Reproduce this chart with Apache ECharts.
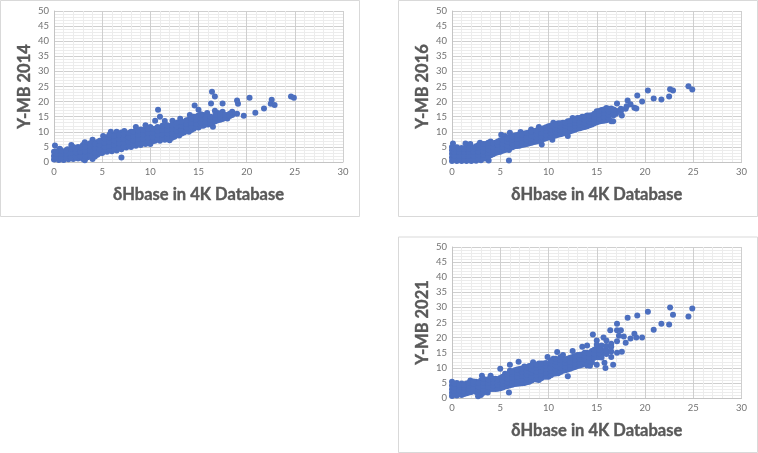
<!DOCTYPE html>
<html><head><meta charset="utf-8">
<script src="https://cdn.jsdelivr.net/npm/echarts@6/dist/echarts.min.js"></script>
<style>html,body{margin:0;padding:0;background:#fff}#c{width:758px;height:453px}</style>
</head><body><div id="c"></div>
<script>
const xTitle = 'δHbase in 4K Database';
const yTitles = ['Y-MB 2014', 'Y-MB 2016', 'Y-MB 2021'];
const ym2014 = [
[0,.8],[0,2],[0,3.4],[.1,5.5],[.5,.7],[.5,2],[.5,3.4],[.6,4.4],[1,.7],[1,2],[1,3.3],[1.5,.9],[1.5,2.1],[1.5,3.5],[1.4,4.2],
[2,1],[2,2.4],[2,3.8],[1.8,5.6],[2,5],[2.5,1.2],[2.5,2.6],[2.5,4],[2.5,5],[3,1],[3,2.8],[3,4.2],[3,5.6],[3.2,6.5],[3.2,.6],
[3.5,1.6],[3.5,3],[3.5,4.4],[3.5,5.8],[4,1],[4,2.6],[4,4],[4,5.4],[4,7.4],[4.5,2.4],[4.5,3.6],[4.5,5],[4.5,6.6],
[5,3],[5,4.4],[5,5.6],[5,7],[5.1,8.6],[5.5,3.4],[5.5,4.6],[5.5,6],[5.5,7.4],[5.5,8.2],[6,3.6],[6,5],[6,6.4],[6,7.8],[6,9.2],[5.9,10],
[6.5,3.8],[6.5,5.4],[6.5,6.8],[6.5,8.2],[6.5,10],[7,4.2],[7,5.6],[7,7],[7,8.4],[7,9.8],[7,1.5],[7.5,4.8],[7.5,6],[7.5,7.4],[7.5,8.8],[7.3,10.3],
[8,5],[8,6.4],[8,7.8],[8,9.2],[8,10],[8.5,5.4],[8.5,6.8],[8.5,8.2],[8.5,9.6],[8.5,11.6],[9,5.6],[9,7],[9,8.4],[9,9.8],[9,10.8],
[9.5,6],[9.5,7.4],[9.5,8.8],[9.5,10.2],[9.5,12.2],[10,6],[10,7.6],[10,9],[10,10.4],[10,11.6],[10.5,7],[10.5,8.2],[10.5,9.6],[10.5,11],[10.5,13.7],
[11,7],[11,8.6],[11,10],[11,11.2],[11,15],[10.8,17.3],[11.5,7.4],[11.5,8.8],[11.5,10.2],[11.5,11.4],[11.5,13.6],[12,7.2],[12,8.8],[12,10.2],[12,11.8],
[12.5,8.4],[12.5,9.8],[12.5,11],[12.5,12.4],[12.3,13.7],[13,8.8],[13,10.2],[13,11.6],[13,13],[13.1,14.3],[13.5,9.8],[13.5,10.8],[13.5,12],[13.5,13.2],
[14,10],[14,11.2],[14,12.6],[14,14],[14.1,15.6],[14.5,11],[14.5,12.2],[14.5,13.4],[14.5,15],[14.6,18.7],[15,11.4],[15,12.6],[15,13.8],[15,15.4],[15,17.3],
[15.5,12],[15.5,13],[15.5,14],[15.5,15.6],[16,12.4],[16,13.4],[16,14.4],[15.9,16.2],[16.5,11.7],[16.5,13.2],[16.5,14.4],[16.3,19.4],[16.4,23.3],[16.7,21.7],[16.7,17],
[17,13.8],[17,15],[17,16.2],[17.5,14.2],[17.5,15.2],[17.5,16.6],[17.5,19.4],[18,14.4],[18,15.6],[18.5,15.6],[18.5,16.6],[19,16],[19,20.4],[19.1,19.3],
[19.7,15.3],[20.3,21.3],[20.9,16.3],[21.8,17.7],[22.5,19.3],[22.6,20.6],[22.9,18.9],[24.6,21.7],[24.9,21.3],
[.25,1.4],[.25,2.7],[.25,3.6],[.75,1.3],[.75,2.7],[.75,3.8],[1.25,1.4],[1.25,2.8],[1.25,3.8],[1.75,1.6],[1.75,3],[1.75,4.3],[2.25,1.8],[2.25,3.2],[2.25,4.5],
[2.75,1.9],[2.75,3.4],[2.75,4.8],[3.25,2.1],[3.25,3.6],[3.25,5],[3.75,2.2],[3.75,3.8],[3.75,5.2],[3.75,6.2],[4.25,1.8],[4.25,3.2],[4.25,4.6],[4.25,6],
[4.75,3],[4.75,4.2],[4.75,5.6],[4.75,7],[5.25,3.6],[5.25,5],[5.25,6.4],[5.25,7.6],[5.75,4],[5.75,5.3],[5.75,6.7],[5.75,8.2],[5.75,9],[6.25,4.3],[6.25,5.8],[6.25,7.2],[6.25,8.6],
[6.75,4.6],[6.75,6.2],[6.75,7.6],[6.75,9],[7.25,5],[7.25,6.4],[7.25,7.8],[7.25,9.2],[7.75,5.4],[7.75,6.8],[7.75,8.2],[7.75,9.6],[8.25,5.8],[8.25,7.2],[8.25,8.6],[8.25,10],
[8.75,6.2],[8.75,7.6],[8.75,9],[8.75,10.4],[9.25,6.4],[9.25,7.8],[9.25,9.2],[9.25,10.6],[9.75,6.8],[9.75,8.2],[9.75,9.6],[9.75,11],[10.25,6.9],[10.25,8.4],[10.25,9.8],[10.25,11],
[10.75,7.6],[10.75,8.9],[10.75,10.3],[10.75,11.6],[11.25,7.8],[11.25,9.2],[11.25,10.6],[11.25,12],[11.75,8],[11.75,9.5],[11.75,10.8],[11.75,12.2],[12.25,8],[12.25,9.4],[12.25,11],[12.25,12.2],
[12.75,9],[12.75,10.4],[12.75,11.8],[12.75,13],[13.25,9.4],[13.25,10.6],[13.25,12],[13.25,13.4],[13.75,10.4],[13.75,11.4],[13.75,12.6],[13.75,13.8],[14.25,10.6],[14.25,11.8],[14.25,13],[14.25,14.4],
[14.75,11.6],[14.75,12.8],[14.75,14],[14.75,15],[15.25,12],[15.25,13.2],[15.25,14.4],[15.25,15.8],[15.75,12.4],[15.75,13.4],[15.75,14.6],[16.25,13],[16.25,14],[16.25,15],
[16.75,13.5],[16.75,14.6],[16.75,15.6],[17.25,14],[17.25,15],[17.25,16],[17.75,14.6],[17.75,15.6],[18.25,15.2],[18.25,16]
];
const ym2016 = [
[0,.3],[0,1.5],[0,2.7],[0,3.9],[0,5],[.1,6.1],[.5,.3],[.5,1.5],[.5,2.7],[.5,3.9],[.5,4.9],[1,.3],[1,1.5],[1,2.7],[1,3.9],[1,4.6],
[1.5,.3],[1.5,1.5],[1.5,2.7],[1.5,3.9],[1.5,4.8],[1.4,6.1],[2,.3],[2,1.5],[2,2.7],[2,3.9],[2,5],[1.9,6],[2.5,.4],[2.5,1.6],[2.5,2.8],[2.5,4],[2.5,5.2],
[3,.6],[3,1.8],[3,3],[3,4.2],[3,5.6],[2.9,6.4],[3.5,1.2],[3.5,2.4],[3.5,3.6],[3.5,4.8],[3.5,6],[3.8,.5],[4,2.2],[4,3.2],[4,4.4],[4,5.6],[4,6.8],
[4.5,3],[4.5,4.2],[4.5,5.4],[4.5,6.4],[5,3.4],[5,4.6],[5,5.8],[5,7.2],[5.1,9],[5.5,4],[5.5,5.2],[5.5,6.4],[5.5,7.6],[5.5,8.6],[6,4.6],[6,5.8],[6,7],[6,8.2],[5.9,.5],[5.9,4],[6,9.7],
[6.5,5.2],[6.5,6.4],[6.5,7.6],[6.5,8.8],[7,5.4],[7,6.6],[7,7.8],[7,9],[7.1,9.9],[7.5,5.8],[7.5,7],[7.5,8.2],[7.5,9.4],[8,6.2],[8,7.4],[8,8.6],[8,9.8],[8.2,10.8],
[8.5,6.6],[8.5,7.8],[8.5,9],[8.5,10.2],[9,7],[9,8.2],[9,9.4],[9,10.6],[9,11.6],[9.3,5.8],[9.5,7.6],[9.5,8.8],[9.5,10],[9.5,11.2],[10,8.2],[10,9.4],[10,10.6],[10,11.8],
[10.5,8.6],[10.5,9.8],[10.5,11],[10.5,13],[10.4,7.4],[11,9],[11,10.2],[11,11.4],[11,12.8],[11.5,9.4],[11.5,10.6],[11.5,11.8],[11.5,13],[12,8.6],[12,10],[12,11],[12,12],[12,13.5],
[12.5,10.4],[12.5,11.6],[12.5,12.8],[12.5,14.6],[13,11],[13,12],[13,13.2],[13,14.6],[13.5,11.4],[13.5,12.6],[13.5,13.6],[13.5,15],[14,11.8],[14,13],[14,14.2],[14,15.4],
[14.5,12.4],[14.5,13.6],[14.5,14.8],[14.5,15.5],[15,13.2],[15,14.2],[15,15.4],[15,16.8],[15.5,13.6],[15.5,14.8],[15.5,16],[15.5,17.2],[16,13.8],[16,15.2],[16,16.4],[16,17.9],
[16.5,13.5],[16.5,15.8],[16.5,17],[16.5,17.7],[16.7,13.5],[17,16],[17,17],[17.1,19.4],[17.5,16.8],[17.5,17.6],[17.6,15.4],[18,17.6],[18.1,18.5],[18.2,20.4],
[18.5,19.1],[18.9,18],[19.1,17.7],[19.2,22],[19.7,20],[20.3,23.7],[20.9,21],[21.7,20.7],[22.5,21.7],[22.6,24.1],[22.9,23.7],[24.5,25.1],[24.9,24],
[.25,.9],[.25,2.1],[.25,3.3],[.25,4.5],[.75,.9],[.75,2.1],[.75,3.3],[.75,4.4],[1.25,.9],[1.25,2.1],[1.25,3.3],[1.25,4.4],[1.75,.9],[1.75,2.1],[1.75,3.3],[1.75,4.4],
[2.25,.9],[2.25,2.1],[2.25,3.3],[2.25,4.5],[2.75,1],[2.75,2.2],[2.75,3.4],[2.75,4.6],[2.75,5.6],[3.25,1.2],[3.25,2.4],[3.25,3.6],[3.25,4.8],[3.25,6],
[3.75,1.8],[3.75,3],[3.75,4.2],[3.75,5.4],[3.75,6.4],[4.25,2.6],[4.25,3.8],[4.25,5],[4.25,6.2],[4.75,3.2],[4.75,4.4],[4.75,5.6],[4.75,6.8],[5.25,3.7],[5.25,4.9],[5.25,6.1],[5.25,7.4],
[5.75,4.3],[5.75,5.5],[5.75,6.7],[5.75,7.9],[6.25,4.9],[6.25,6.1],[6.25,7.3],[6.25,8.5],[6.75,5.3],[6.75,6.5],[6.75,7.7],[6.75,8.9],[7.25,5.6],[7.25,6.8],[7.25,8],[7.25,9.2],
[7.75,6],[7.75,7.2],[7.75,8.4],[7.75,9.6],[8.25,6.4],[8.25,7.6],[8.25,8.8],[8.25,10],[8.75,6.8],[8.75,8],[8.75,9.2],[8.75,10.4],[9.25,7.3],[9.25,8.5],[9.25,9.7],[9.25,10.9],
[9.75,7.9],[9.75,9.1],[9.75,10.3],[9.75,11.5],[10.25,8.4],[10.25,9.6],[10.25,10.8],[10.25,12],[10.75,8.8],[10.75,10],[10.75,11.2],[10.75,12.4],[11.25,9.2],[11.25,10.4],[11.25,11.6],[11.25,12.8],
[11.75,9.6],[11.75,10.8],[11.75,12],[11.75,13],[12.25,10.2],[12.25,11.4],[12.25,12.6],[12.25,13.6],[12.75,10.7],[12.75,11.9],[12.75,13],[12.75,14],[13.25,11.2],[13.25,12.4],[13.25,13.4],[13.25,14.6],
[13.75,11.6],[13.75,12.8],[13.75,14],[13.75,15],[14.25,12.2],[14.25,13.3],[14.25,14.5],[14.25,15.4],[14.75,12.8],[14.75,14],[14.75,15],[14.75,16],[15.25,13.4],[15.25,14.5],[15.25,15.7],[15.25,16.9],
[15.75,13.7],[15.75,15],[15.75,16.2],[15.75,17.4],[16.25,14.5],[16.25,15.6],[16.25,16.8],[16.25,17.6],[16.75,15.5],[16.75,16.4],[16.75,17.4]
];
const ym2021 = [
[0,.7],[0,1.7],[0,2.9],[0,4.1],[0,5.4],[.5,.8],[.5,2],[.5,3.2],[.5,4.4],[.5,5],[1,1],[1,2.2],[1,3.4],[1,4.8],[1.5,1.6],[1.5,2.8],[1.5,3.8],[1.5,4.8],
[2,2],[2,3],[2,4],[2,5],[1.9,5.8],[2.5,2],[2.5,3],[2.5,4.2],[2.5,5.4],[2.7,.6],[3,1],[3,2.4],[3,3.4],[3,4.6],[3,5.8],[3.1,7.4],[3.5,2.6],[3.5,3.6],[3.5,4.8],[3.5,5.8],
[3.7,1.8],[4,3],[4,4],[4,5],[4,6.4],[4,7.4],[4.5,3],[4.5,4.2],[4.5,5.2],[4.5,6.4],[5,3.2],[5,4.4],[5,5.4],[5,6.6],[5,9.7],[5.5,3.8],[5.5,5],[5.5,6],[5.5,7.2],[5.5,8],
[6,4.2],[6,5.4],[6,6.6],[6,7.8],[6,9],[6,11],[5.9,1.8],[6.5,4.6],[6.5,5.8],[6.5,7],[6.5,8.2],[6.5,9.2],[7,4.8],[7,6],[7,7.2],[7,8.4],[7,9.6],[6.9,12],
[7.5,5],[7.5,6.4],[7.5,7.6],[7.5,8.8],[7.5,10.4],[8,5.4],[8,6.8],[8,8],[8,9.2],[8,10.6],[8.5,6.2],[8.5,7.4],[8.5,8.6],[8.5,9.8],[8.4,11.8],[9,6],[9,7.6],[9,8.8],[9,10],[9,11.4],
[9.5,7],[9.5,8.2],[9.5,9.4],[9.5,10.6],[9.5,11.4],[10,7],[10,8.6],[10,9.8],[10,11],[9.9,13.6],[10.5,8],[10.5,9.4],[10.5,10.6],[10.5,11.8],[10.5,13],
[11,8.2],[11,9.8],[11,11],[11,12.4],[10.9,15.2],[11.5,9],[11.5,10.2],[11.5,11.4],[11.5,12.6],[11.5,14.2],[12,7.2],[12,9.4],[12,10.6],[12,11.8],[12,13],
[12.5,10],[12.5,11.2],[12.5,12.4],[12.5,13.6],[12.5,15.6],[13,10.6],[13,11.6],[13,12.8],[13,14.2],[13.5,11],[13.5,12],[13.5,13.2],[13.5,14.4],[13.5,17],
[14,10.8],[14,12.6],[14,13.8],[14,15],[14,17.4],[14.5,11.8],[14.3,10.7],[14.5,13],[14.5,14.4],[14.5,15.6],[14.6,21],[15,11],[15,13.6],[15,15],[15,16.4],[15,17.6],[15,19],
[15.5,13.4],[15.5,14.6],[15.5,15.8],[15.5,17.4],[15.7,20],[15.8,11.7],[15.9,9.9],[16,14.6],[16,15.8],[16,17.2],[16,19],[16.4,22.4],[16.5,13.6],[16.5,15.4],[16.5,17],[16.5,18],[16.7,11],
[17.1,15],[17.1,18.8],[17.1,22.4],[17.1,24.6],[17.3,20.6],[17.5,22.4],[17.6,15.3],[17.8,20.4],[18,18.3],[18.2,26.6],[18.5,19.7],[18.9,21.3],[19.1,20],[19.2,27.3],[19.7,20],
[20.3,28.6],[20.9,22.6],[21.7,24.6],[22.5,24.3],[22.6,30],[22.9,27.6],[24.5,27],[24.9,29.6],
[.25,1.2],[.25,2.3],[.25,3.5],[.25,4.7],[.75,1.4],[.75,2.6],[.75,3.8],[.75,4.4],[1.25,1.3],[1.25,2.5],[1.25,3.6],[1.25,4.4],[1.75,1.8],[1.75,3],[1.75,4.2],[1.75,5],
[2.25,2.5],[2.25,3.5],[2.25,4.6],[2.25,5.5],[2.75,1.5],[2.75,2.7],[2.75,3.7],[2.75,5],[3.25,1.7],[3.25,2.9],[3.25,4],[3.25,5.2],[3.25,6.4],[3.75,2.8],[3.75,3.8],[3.75,5],[3.75,6.2],
[4.25,3],[4.25,4.1],[4.25,5.2],[4.25,6.4],[4.75,3.1],[4.75,4.3],[4.75,5.4],[4.75,6.2],[5.25,3.5],[5.25,4.7],[5.25,5.8],[5.25,7],[5.75,4],[5.75,5.2],[5.75,6.4],[5.75,7.6],
[6.25,4.4],[6.25,5.6],[6.25,6.8],[6.25,8],[6.25,8.8],[6.75,4.7],[6.75,5.9],[6.75,7.1],[6.75,8.3],[6.75,9.4],[7.25,4.9],[7.25,6.2],[7.25,7.4],[7.25,8.6],[7.25,9.8],
[7.75,5.2],[7.75,6.6],[7.75,7.8],[7.75,9],[7.75,10.2],[8.25,5.8],[8.25,7.1],[8.25,8.3],[8.25,9.5],[8.25,10.8],[8.75,6.1],[8.75,7.5],[8.75,8.7],[8.75,9.9],[8.75,11],
[9.25,6.5],[9.25,7.9],[9.25,9.1],[9.25,10.3],[9.25,11.4],[9.75,7],[9.75,8.4],[9.75,9.6],[9.75,10.8],[9.75,11.6],[10.25,7.5],[10.25,9],[10.25,10.2],[10.25,11.4],[10.25,12.4],
[10.75,8.1],[10.75,9.6],[10.75,10.8],[10.75,12.1],[10.75,13],[11.25,8.6],[11.25,10],[11.25,11.2],[11.25,12.5],[11.25,13.6],[11.75,9.2],[11.75,10.4],[11.75,11.6],[11.75,12.8],
[12.25,9.7],[12.25,10.9],[12.25,12.1],[12.25,13.3],[12.75,10.3],[12.75,11.4],[12.75,12.6],[12.75,13.9],[13.25,10.8],[13.25,11.8],[13.25,13],[13.25,14.3],[13.75,11.6],[13.75,12.8],[13.75,14],[13.75,15],
[14.25,12.2],[14.25,13.4],[14.25,14.7],[14.75,13.3],[14.75,14.7],[14.75,16],[15.25,13.5],[15.25,14.8],[15.25,16.1]
];

const panels = [[0,0,359,216],[398,0,359,216],[398,236.5,359,215.5]];
const plots = [[54,11,289,151],[452,11,289.5,151],[452,247,289.5,151]];
const datasets = [ym2014, ym2016, ym2021];
const mk = (o)=>Object.assign({
  type:'value', min:0, axisTick:{show:false},
  axisLabel:{color:'#737373',fontFamily:'Lato',fontSize:9.5,margin:5},
  axisLine:{show:true,onZero:false,lineStyle:{color:'#c4c4c4',width:1}},
  splitLine:{show:true,lineStyle:{color:'#cfcfcf',width:1}},
  minorTick:{show:false,splitNumber:5},
  minorSplitLine:{show:true,lineStyle:{color:'#ececec',width:1}},
  nameLocation:'middle',
  nameTextStyle:{color:'#595959',fontFamily:'Lato',fontWeight:'bold',fontSize:16.5,textBorderColor:'#595959',textBorderWidth:.4}
},o);
const chart = echarts.init(document.getElementById('c'),null,{renderer:'canvas'});
chart.setOption({
  animation:false, backgroundColor:'#fff',
  graphic: panels.map(p=>({type:'rect',silent:true,z:-1,shape:{x:p[0]+.5,y:p[1]+.5,width:p[2],height:p[3]},style:{fill:'#fff',stroke:'#d9d9d9',lineWidth:1}})),
  grid: plots.map(p=>({left:p[0],top:p[1],width:p[2],height:p[3],containLabel:false})),
  xAxis: plots.map((p,i)=>mk({gridIndex:i,max:30,interval:5,name:xTitle,nameGap:24})),
  yAxis: plots.map((p,i)=>mk({gridIndex:i,max:50,interval:5,name:yTitles[i],nameGap:21})),
  series: datasets.map((d,i)=>({type:'scatter',xAxisIndex:i,yAxisIndex:i,data:d,symbol:'circle',symbolSize:6,itemStyle:{color:'#4c6fbf',opacity:1},clip:false}))
});
</script></body></html>
